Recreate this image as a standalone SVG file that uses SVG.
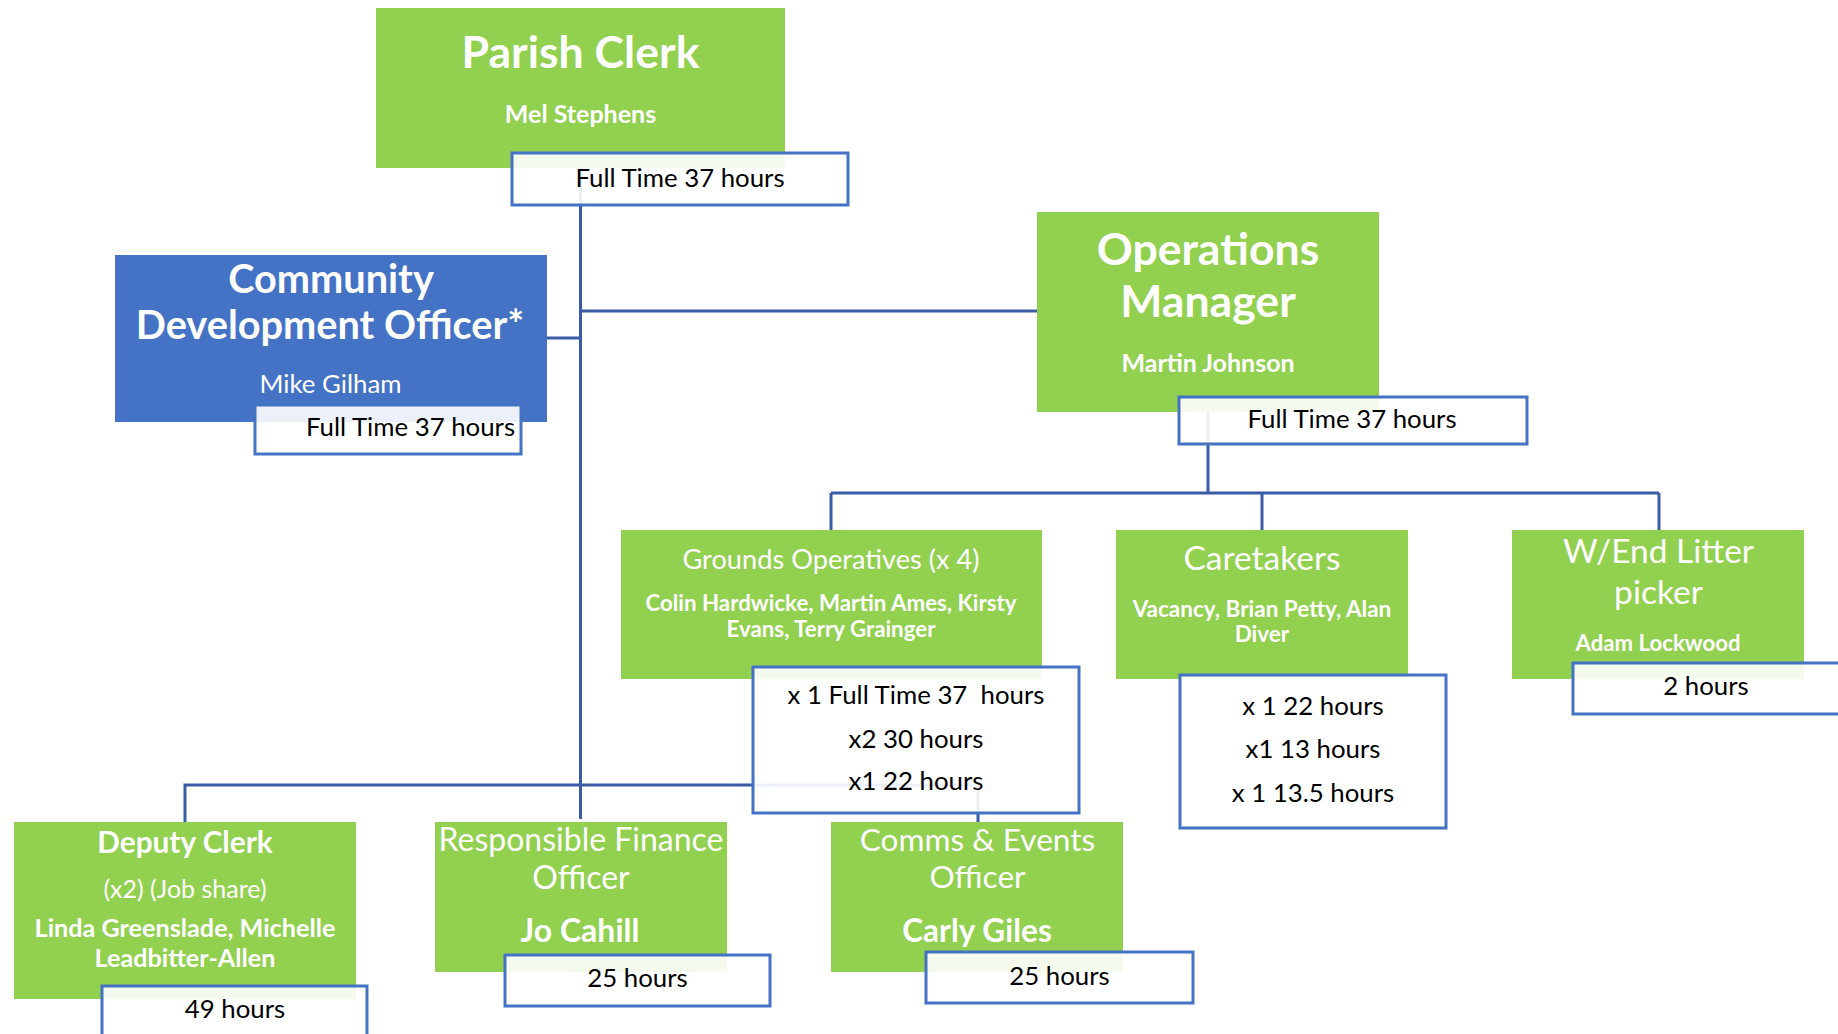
<svg xmlns="http://www.w3.org/2000/svg" width="1838" height="1034" viewBox="0 0 1838 1034">
<style>
text{font-family:Lato,"Liberation Sans",sans-serif;text-anchor:middle}
.g{fill:#92D050}
.b{fill:#4472C4}
.hb{fill:#ffffff;fill-opacity:0.9;stroke:#4472C4;stroke-width:3}
.w{fill:#ffffff}
.k{fill:#000000}
.bd{font-weight:bold}
.c{fill:none;stroke:#3A5CA6;stroke-width:3}
</style>
<rect width="1838" height="1034" fill="#ffffff"/>
<g id="connectors">
<path class="c" d="M580.5 168V819"/>
<path class="c" d="M547 338H580.5"/>
<path class="c" d="M580.5 311H1037"/>
<path class="c" d="M1208 412V493"/>
<path class="c" d="M831 493H1659"/>
<path class="c" d="M831 493V530M1262 493V530M1659 493V530"/>
<path class="c" d="M185 822V785H978V822"/>
</g>
<g id="parish-clerk">
<rect class="g" x="376" y="8" width="409" height="160"/>
<text class="w bd" x="580.5" y="68" font-size="44.6">Parish Clerk</text>
<text class="w bd" x="580.5" y="123" font-size="25">Mel Stephens</text>
<rect class="hb" x="512" y="153" width="336" height="52"/>
<text class="k" x="680" y="187" font-size="25.8">Full Time 37 hours</text>
</g>
<g id="community-development-officer">
<rect class="b" x="115" y="255" width="432" height="167"/>
<text class="w bd" x="331" y="293" font-size="39.7">Community</text>
<text class="w bd" x="330" y="339" font-size="39.7">Development Officer*</text>
<text class="w" x="330.5" y="393" font-size="25.8">Mike Gilham</text>
<rect class="hb" x="255" y="405" width="266" height="49"/>
<text class="k" x="410.5" y="436" font-size="25.8">Full Time 37 hours</text>
</g>
<g id="operations-manager">
<rect class="g" x="1037" y="212" width="342" height="200"/>
<text class="w bd" x="1208" y="265" font-size="44.6">Operations</text>
<text class="w bd" x="1208" y="317" font-size="44.6">Manager</text>
<text class="w bd" x="1208" y="372" font-size="25">Martin Johnson</text>
<rect class="hb" x="1179" y="397" width="348" height="47"/>
<text class="k" x="1352" y="428" font-size="25.8">Full Time 37 hours</text>
</g>
<g id="grounds-operatives">
<rect class="g" x="621" y="530" width="421" height="149"/>
<text class="w" x="831" y="569" font-size="27.2">Grounds Operatives (x 4)</text>
<text class="w bd" x="831" y="611" font-size="22.3">Colin Hardwicke, Martin Ames, Kirsty</text>
<text class="w bd" x="831" y="637" font-size="22.3">Evans, Terry Grainger</text>
<rect class="hb" x="753" y="667" width="326" height="146"/>
<text class="k" x="916" y="704" font-size="25.8" style="white-space:pre">x 1 Full Time 37  hours</text>
<text class="k" x="916" y="748" font-size="25.8">x2 30 hours</text>
<text class="k" x="916" y="790" font-size="25.8">x1 22 hours</text>
</g>
<g id="caretakers">
<rect class="g" x="1116" y="530" width="292" height="149"/>
<text class="w" x="1262" y="570" font-size="33.5">Caretakers</text>
<text class="w bd" x="1262" y="617" font-size="22.5">Vacancy, Brian Petty, Alan</text>
<text class="w bd" x="1262" y="642" font-size="22.5">Diver</text>
<rect class="hb" x="1180" y="675" width="266" height="153"/>
<text class="k" x="1313" y="715" font-size="25.8">x 1 22 hours</text>
<text class="k" x="1313" y="758" font-size="25.8">x1 13 hours</text>
<text class="k" x="1313" y="802" font-size="25.8">x 1 13.5 hours</text>
</g>
<g id="wend-litter-picker">
<rect class="g" x="1512" y="530" width="292" height="149"/>
<text class="w" x="1658.5" y="563" font-size="33.5">W/End Litter</text>
<text class="w" x="1658.5" y="604" font-size="33.5">picker</text>
<text class="w bd" x="1658" y="651" font-size="22.2">Adam Lockwood</text>
<rect class="hb" x="1573" y="663" width="290" height="51"/>
<text class="k" x="1706" y="695" font-size="25.8">2 hours</text>
</g>
<g id="deputy-clerk">
<rect class="g" x="14" y="822" width="342" height="177"/>
<text class="w bd" x="185" y="853" font-size="29.8">Deputy Clerk</text>
<text class="w" x="185" y="898" font-size="25">(x2) (Job share)</text>
<text class="w bd" x="185" y="937" font-size="25.2">Linda Greenslade, Michelle</text>
<text class="w bd" x="185" y="967" font-size="25.2">Leadbitter-Allen</text>
<rect class="hb" x="102" y="986" width="265" height="60"/>
<text class="k" x="235" y="1018" font-size="25.8">49 hours</text>
</g>
<g id="responsible-finance-officer">
<rect class="g" x="435" y="822" width="292" height="150"/>
<text class="w" x="581" y="851" font-size="32">Responsible Finance</text>
<text class="w" x="581" y="889" font-size="32">Officer</text>
<text class="w bd" x="580" y="942" font-size="32">Jo Cahill</text>
<rect class="hb" x="505" y="955" width="265" height="51"/>
<text class="k" x="637.5" y="987" font-size="25.8">25 hours</text>
</g>
<g id="comms-events-officer">
<rect class="g" x="831" y="822" width="292" height="150"/>
<text class="w" x="977.5" y="851" font-size="31.6">Comms &amp; Events</text>
<text class="w" x="977.5" y="888" font-size="31.6">Officer</text>
<text class="w bd" x="977" y="942" font-size="31.6">Carly Giles</text>
<rect class="hb" x="926" y="952" width="267" height="51"/>
<text class="k" x="1059.5" y="985" font-size="25.8">25 hours</text>
</g>
</svg>
